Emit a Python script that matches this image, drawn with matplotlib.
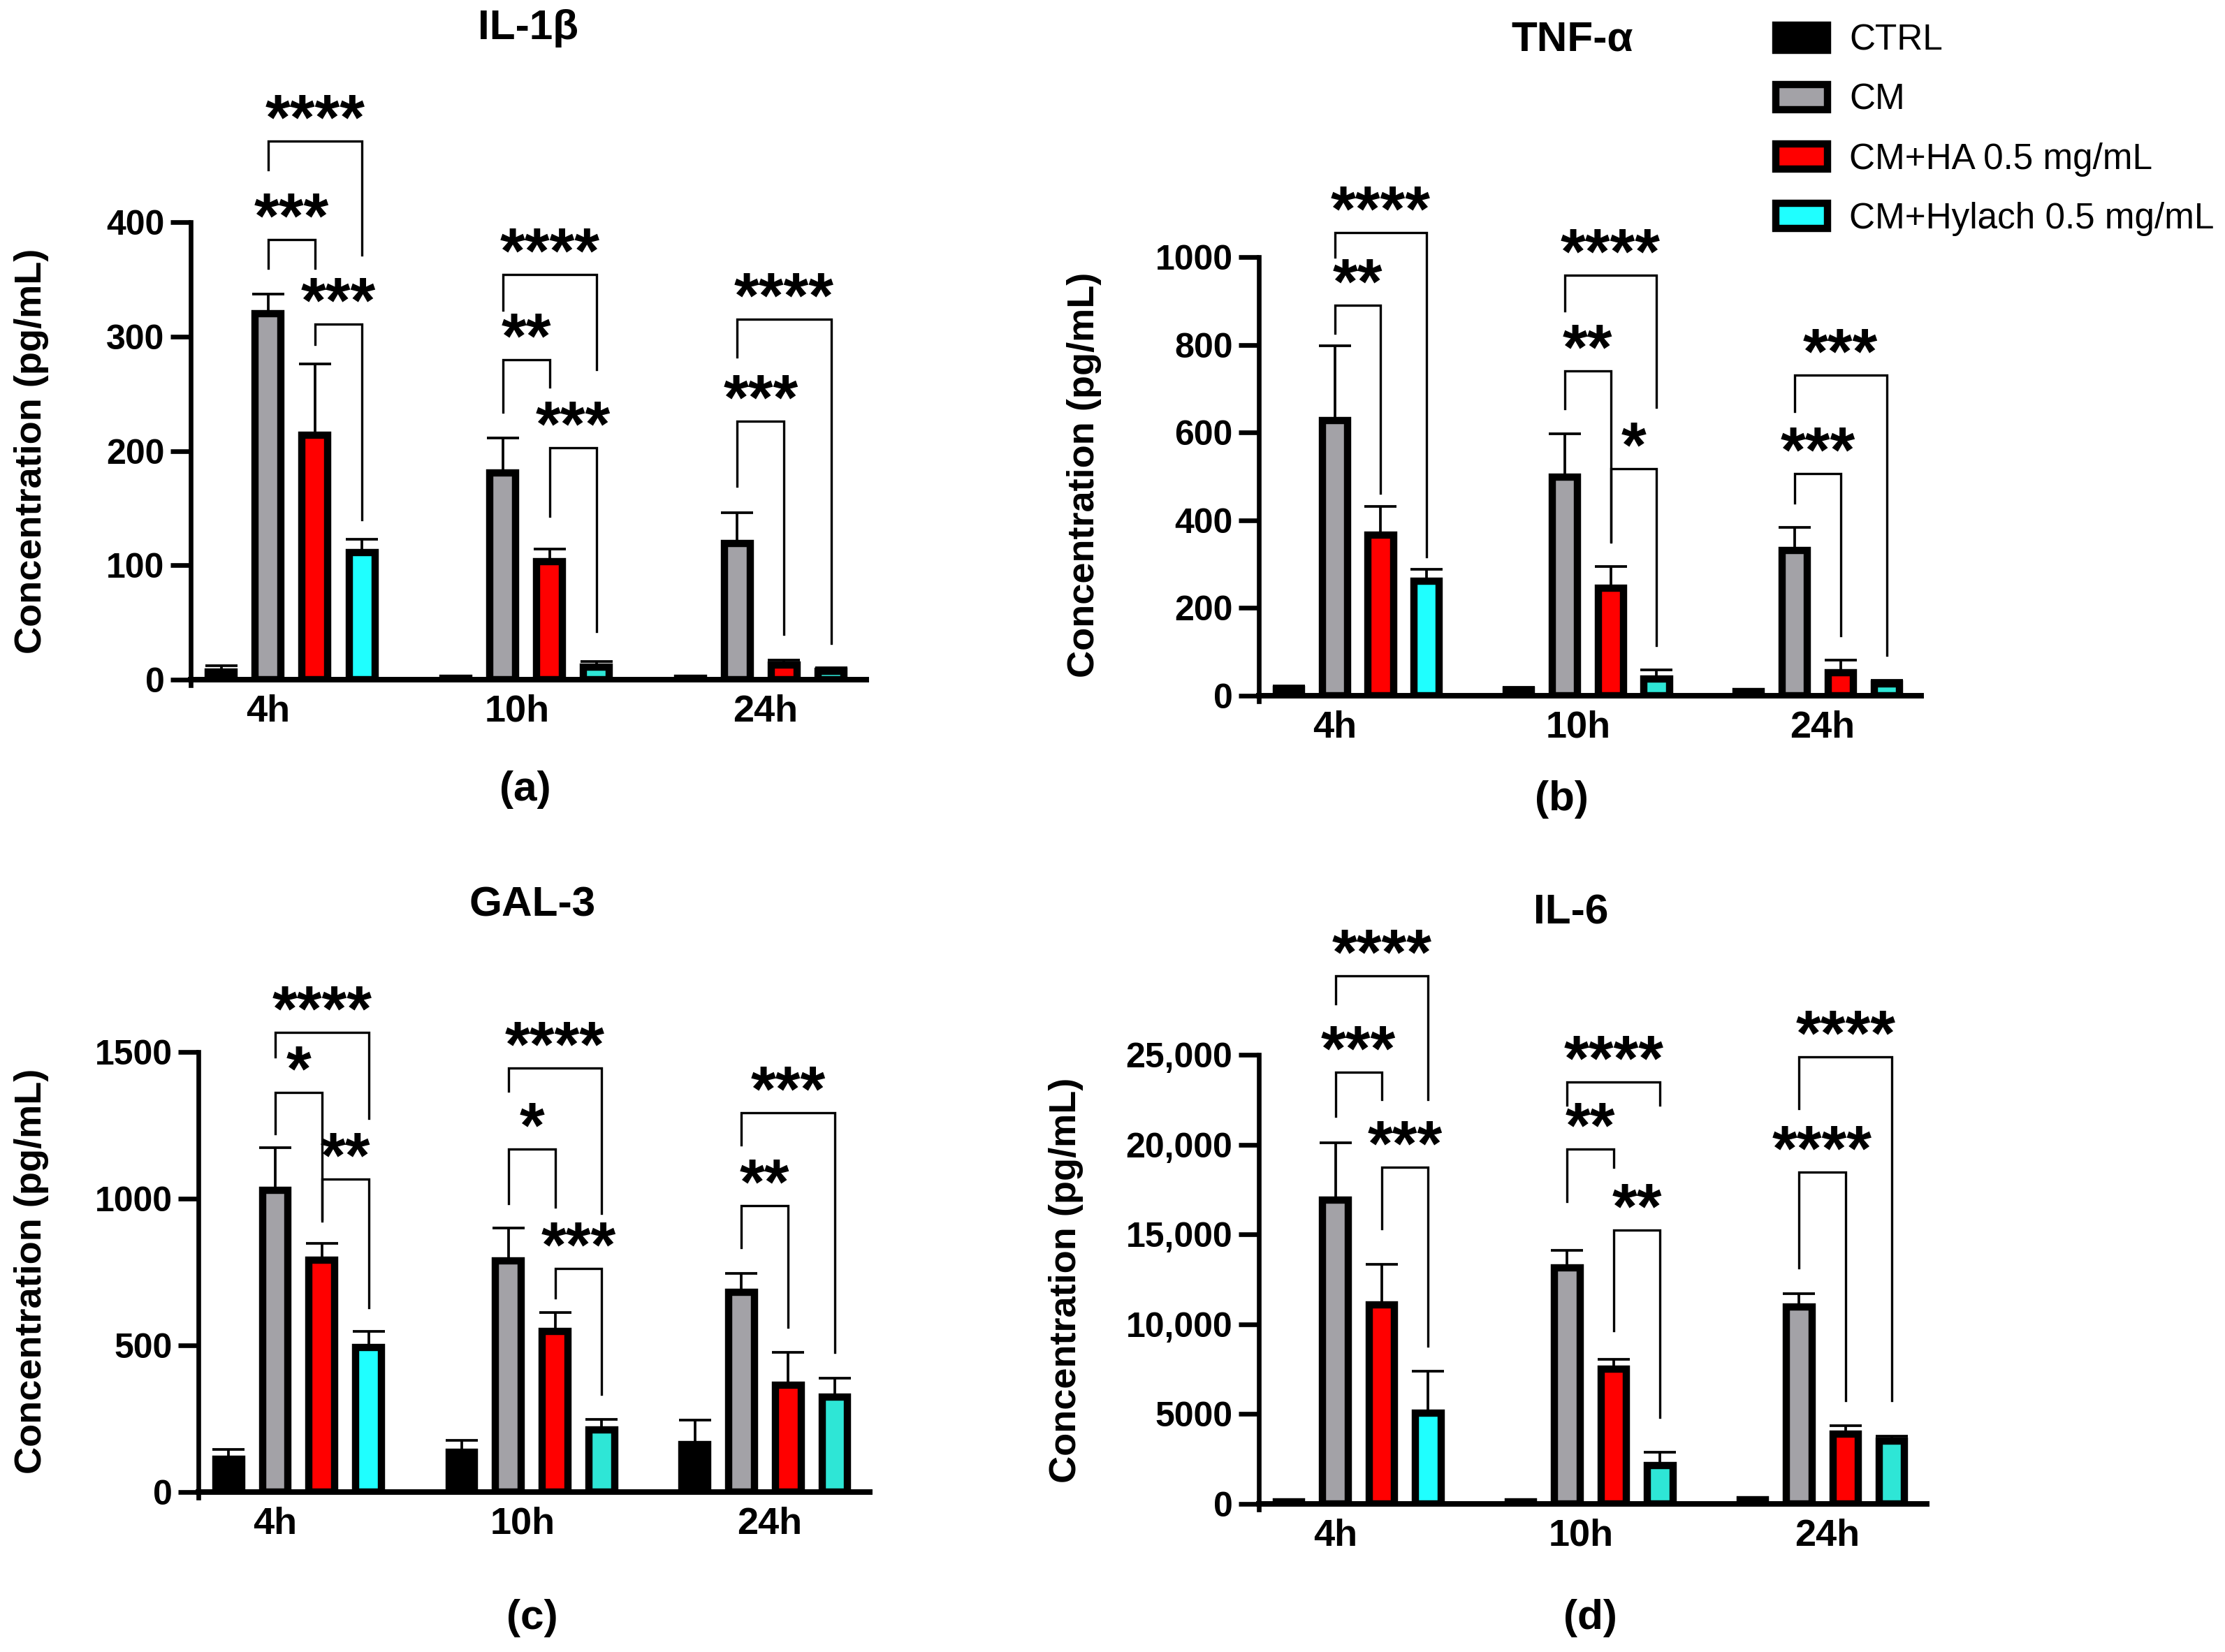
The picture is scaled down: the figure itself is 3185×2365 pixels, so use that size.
import matplotlib
matplotlib.use("Agg")
import matplotlib.pyplot as plt
from matplotlib.patches import Patch
import numpy as np

plt.rcParams["font.family"] = ["Liberation Sans", "DejaVu Sans"]

TIMES = ["4h", "10h", "24h"]
GROUPS = ["CTRL", "CM", "CM+HA 0.5 mg/mL", "CM+Hylach 0.5 mg/mL"]

# rows follow GROUPS, columns follow TIMES
IL1B_MEAN = [[7, 1, 1], [320, 181, 119], [214, 103, 13], [111, 11, 7.6]]
IL1B_SEM = [[5, 1, 1], [17, 30, 27], [62, 11, 4], [12, 5, 3]]
TNF_MEAN = [[15, 13, 10], [628, 498, 332], [366, 245, 53], [261, 39, 27]]
TNF_SEM = [[8, 6, 3], [169, 99, 51], [65, 49, 28], [27, 20, 8]]
GAL3_MEAN = [[111, 135, 161], [1028, 788, 681], [790, 547, 365], [493, 212, 325]]
GAL3_SEM = [[35, 42, 84], [147, 111, 64], [57, 64, 111], [54, 35, 62]]
IL6_MEAN = [[100, 100, 250], [16913, 13138, 10953], [11095, 7520, 3888], [5051, 2128, 3490]]
IL6_SEM = [[40, 40, 60], [3177, 965, 767], [2242, 539, 454], [2355, 738, 284]]

# (time index, bar i, bar j, bracket top, left leg end, right leg end, label)
IL1B_SIG = [
    (0, 1, 2, 385, 360, 360, "***"),
    (0, 1, 3, 471, 446, 371, "****"),
    (0, 2, 3, 311, 293, 140, "***"),
    (1, 1, 2, 280, 234, 256, "**"),
    (1, 1, 3, 354, 323, 271, "****"),
    (1, 2, 3, 203, 143, 42, "***"),
    (2, 1, 2, 226, 169, 40, "***"),
    (2, 1, 3, 315, 282, 32, "****"),
]
TNF_SIG = [
    (0, 1, 2, 890, 826, 462, "**"),
    (0, 1, 3, 1056, 1000, 317, "****"),
    (1, 1, 2, 740, 654, 350, "**"),
    (1, 1, 3, 958, 878, 657, "****"),
    (1, 2, 3, 518, 352, 115, "*"),
    (2, 1, 2, 506, 440, 137, "***"),
    (2, 1, 3, 731, 648, 92, "***"),
]
GAL3_SIG = [
    (0, 1, 2, 1361, 1222, 931, "*"),
    (0, 1, 3, 1566, 1484, 1274, "****"),
    (0, 2, 3, 1066, 924, 628, "**"),
    (1, 1, 2, 1170, 984, 972, "*"),
    (1, 1, 3, 1446, 1366, 950, "****"),
    (1, 2, 3, 762, 663, 333, "***"),
    (2, 1, 2, 976, 833, 562, "**"),
    (2, 1, 3, 1292, 1184, 476, "***"),
]
IL6_SIG = [
    (0, 1, 2, 24035, 21566, 22503, "***"),
    (0, 1, 3, 29399, 27838, 22503, "****"),
    (0, 2, 3, 18757, 15323, 8797, "***"),
    (1, 1, 2, 19750, 16828, 18757, "**"),
    (1, 1, 3, 23496, 22219, 22191, "****"),
    (1, 2, 3, 15238, 9648, 4824, "**"),
    (2, 1, 2, 18473, 13138, 5760, "****"),
    (2, 1, 3, 24886, 22020, 5760, "****"),
]

IL1B_TICKS = [0, 100, 200, 300, 400]
TNF_TICKS = [0, 200, 400, 600, 800, 1000]
GAL3_TICKS = [0, 500, 1000, 1500]
IL6_TICKS = [0, 5000, 10000, 15000, 20000, 25000]
IL6_TICKLABELS = ["0", "5000", "10,000", "15,000", "20,000", "25,000"]

COLORS = ["#000000", "#A3A2A7", "#FF0000", "#1FFFFF"]
TEAL = "#2EE6D6"

W, H = 3186, 2365
DPI = 300
GROUP_STEP = 5
BAR_W = 0.55
XTICK_POS = [1.0, 6.3, 11.6]


def fx(px):
    return px / W


def fy(py):
    return 1 - py / H


def draw_panel(ax, means, sems, sig, ticks, ticklabels=None):
    means = np.asarray(means, dtype=float)
    sems = np.asarray(sems, dtype=float)
    for g in range(len(GROUPS)):
        xs = np.arange(len(TIMES)) * GROUP_STEP + g
        cols = [COLORS[g]] * len(TIMES)
        if g == 3:
            cols = [COLORS[3], TEAL, TEAL]
        ax.bar(xs, means[g], width=BAR_W, color=cols, edgecolor="black",
               linewidth=2.5, zorder=3)
        ax.errorbar(xs, means[g], yerr=[np.zeros(len(TIMES)), sems[g]],
                    fmt="none", ecolor="black", elinewidth=0.9,
                    capsize=5.5, capthick=0.9, zorder=2)
    for t, i, j, top, yl, yr, label in sig:
        x1 = t * GROUP_STEP + i
        x2 = t * GROUP_STEP + j
        ax.plot([x1, x1, x2, x2], [yl, top, top, yr], color="black",
                lw=0.8, clip_on=False, zorder=4, solid_joinstyle="miter")
        ax.annotate(label, xy=((x1 + x2) / 2, top), xytext=(0, 0.6),
                    textcoords="offset points", ha="center", va="baseline",
                    fontsize=22, fontweight="bold", annotation_clip=False)
    ax.set_xlim(-0.65, 13.75)
    ax.set_ylim(0, ticks[-1])
    ax.set_yticks(ticks)
    if ticklabels is None:
        ticklabels = [str(v) for v in ticks]
    ax.set_yticklabels(ticklabels, fontsize=12, fontweight="bold")
    ax.set_xticks(XTICK_POS)
    ax.set_xticklabels(TIMES, fontsize=13, fontweight="bold")
    ax.tick_params(axis="x", length=0, pad=5)
    ax.tick_params(axis="y", length=7, width=1.6, pad=2)
    for s in ["top", "right"]:
        ax.spines[s].set_visible(False)
    ax.spines["left"].set_linewidth(1.6)
    ax.spines["bottom"].set_linewidth(1.9)
    ax.spines["left"].set_bounds(ticks[0] - ticks[-1] * 0.012, ticks[-1])


fig = plt.figure(figsize=(W / DPI, H / DPI), dpi=DPI)

# axes boxes in pixels: left, right, y of zero line, y of top tick
boxes = [
    (273, 1240, 973, 318),
    (1802, 2750, 996, 368),
    (284, 1245, 2136, 1506),
    (1802, 2758, 2153, 1510),
]
panels = [
    (IL1B_MEAN, IL1B_SEM, IL1B_SIG, IL1B_TICKS, None, "IL-1β", (756, 41), "(a)", (752, 1130), (45, 646)),
    (TNF_MEAN, TNF_SEM, TNF_SIG, TNF_TICKS, None, "TNF-α", (2251, 57), "(b)", (2235, 1144), (1552, 680)),
    (GAL3_MEAN, GAL3_SEM, GAL3_SIG, GAL3_TICKS, None, "GAL-3", (762, 1296), "(c)", (762, 2316), (45, 1820)),
    (IL6_MEAN, IL6_SEM, IL6_SIG, IL6_TICKS, IL6_TICKLABELS, "IL-6", (2249, 1307), "(d)", (2276, 2316), (1526, 1833)),
]

for (l, r, y0, y1), (m, e, sg, tk, tl, title, tpos, letter, lpos, ylpos) in zip(boxes, panels):
    ax = fig.add_axes([fx(l), fy(y0), fx(r - l), (y0 - y1) / H])
    draw_panel(ax, m, e, sg, tk, tl)
    fig.text(fx(tpos[0]), fy(tpos[1]), title, ha="center", va="center",
             fontsize=14.5, fontweight="bold")
    fig.text(fx(lpos[0]), fy(lpos[1]), letter, ha="center", va="center",
             fontsize=14.5, fontweight="bold")
    fig.text(fx(ylpos[0]), fy(ylpos[1]), "Concentration (pg/mL)", rotation=90,
             ha="center", va="center", fontsize=13, fontweight="bold")

handles = [Patch(facecolor=c, edgecolor="black", linewidth=2.5) for c in COLORS]
fig.legend(handles, GROUPS, loc="upper left", bbox_to_anchor=(fx(2542), fy(34)),
           frameon=False, fontsize=12.3, handlelength=1.45, handleheight=0.7,
           handletextpad=0.6, labelspacing=0.70, borderpad=0, borderaxespad=0)

fig.savefig("out.png", dpi=DPI)
